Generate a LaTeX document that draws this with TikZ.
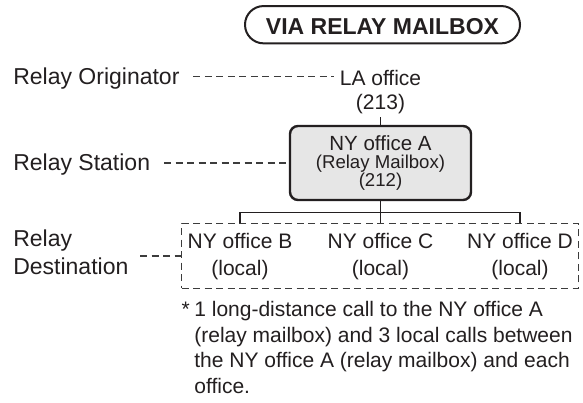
\documentclass[tikz,border=0pt]{standalone}
\usepackage{fontspec}
\setmainfont{Liberation Sans}
\usetikzlibrary{calc}
\definecolor{ink}{HTML}{231F20}
\definecolor{dashgray}{HTML}{3C3C3C}
\definecolor{boxfill}{HTML}{E6E6E6}
\begin{document}
\begin{tikzpicture}[x=1pt,y=-1pt,
  every node/.style={inner sep=0pt, outer sep=0pt, text=ink},
  lbl/.style={font=\fontsize{23}{28.3}\selectfont, align=left},
  body/.style={font=\fontsize{21}{26.7}\selectfont, align=center},
  dashline/.style={draw=dashgray, line width=1.4pt, dash pattern=on 7pt off 4.5pt},
  treeline/.style={draw=ink, line width=1.1pt}]
\path[use as bounding box, fill=white] (0,0) rectangle (583,403);

% title
\node[draw=ink, line width=2pt, rounded corners=18.6pt, minimum width=275pt,
  minimum height=37.3pt, font=\bfseries\fontsize{23}{23}\selectfont,
  text height=20.6pt, text depth=0pt] (title) at (382.5,24.7) {VIA RELAY MAILBOX};

% left labels
\node[lbl, anchor=base west] (orig) at (13.3,85) {Relay Originator};
\node[lbl, anchor=base west] (station) at (13.3,170.7) {Relay Station};
\node[lbl, anchor=south west] (dest) at (13.3,275) {Relay\\Destination};

% LA office
\node[font=\fontsize{21}{23.6}\selectfont, align=center, anchor=south] (la) at (380.5,113.7) {LA office\\(213)};

% relay station box
\node[draw=ink, line width=2.4pt, fill=boxfill, rounded corners=8pt,
  minimum width=181pt, minimum height=74pt, align=center,
  font=\fontsize{18.6}{18.3}\selectfont] (nya) at (380.5,163)
  {{\fontsize{20.5}{18.3}\selectfont NY office A}\\(Relay Mailbox)\\(212)};

% destinations
\node[body, anchor=south] (B) at (240,279.5) {NY office B\\(local)};
\node[body, anchor=south] (C) at (380.5,279.5) {NY office C\\(local)};
\node[body, anchor=south] (D) at (520,279.5) {NY office D\\(local)};
\node[dashline, minimum width=396.6pt, minimum height=64.8pt] (destbox) at (380,255.9) {};

% tree
\coordinate (bar) at (380.5,212.7);
\draw[treeline] ([yshift=-3.6pt]la.south) -- (nya.north);
\draw[treeline] (nya.south) -- (nya.south |- destbox.north);
\draw[treeline] (B.north |- destbox.north) -- (B.north |- bar) -- (D.north |- bar) -- (D.north |- destbox.north);

% dashed leaders
\coordinate (o1) at ($(orig.base east)+(14,-8.3)$);
\draw[dashline, shorten >=6.3pt] (o1) -- (o1 -| la.west);
\coordinate (s1) at ($(station.base east)+(14,0)$);
\draw[dashline] (s1 |- nya.west) -- (nya.west);
\coordinate (d1) at ($(dest.east)+(11.7,0)$);
\draw[dashline] (d1 |- destbox.west) -- (destbox.west);

% note
\node[anchor=base west, font=\fontsize{21}{25.5}\selectfont] (note) at (181.7,316.5)
  {\begin{tabular}[t]{@{}l@{\hspace{4.5pt}}l@{}}*&1 long-distance call to the NY office A\\
   &(relay mailbox) and 3 local calls between\\
   &the NY office A (relay mailbox) and each\\
   &office.\end{tabular}};
\end{tikzpicture}
\end{document}
